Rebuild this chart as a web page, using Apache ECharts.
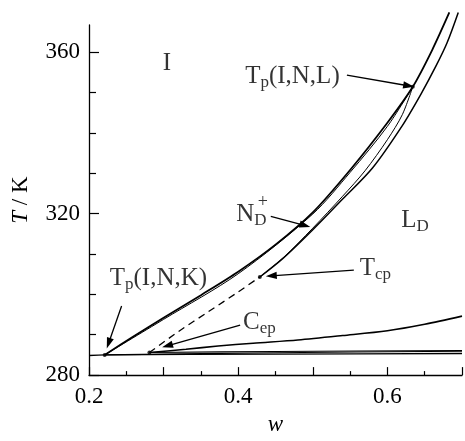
<!DOCTYPE html>
<html><head><meta charset="utf-8">
<script src="https://cdn.jsdelivr.net/npm/echarts@6/dist/echarts.min.js"></script>
<style>html,body{margin:0;padding:0;background:#fff}#c{width:465px;height:441px}</style>
</head><body><div id="c"></div>
<script>
// tick labels
const xLabelTicks = [0.2, 0.4, 0.6];
const yLabelTicks = [280, 320, 360];
const yMinorTicks = [290, 300, 310, 330, 340, 350];

// phase boundaries [w, T/K]
const isoBoundary = [[0.221,285.0],[0.26,289.6],[0.30,294.2],[0.35,299.8],[0.40,305.6],[0.45,312.3],[0.50,320.3],[0.55,330.8],[0.60,342.5],[0.634,351.4],[0.66,360.5],[0.683,369.8]];
const nemBoundaryIN = [[0.221,285.0],[0.30,293.8],[0.40,305.1],[0.50,319.9],[0.55,330.2],[0.60,341.6],[0.634,351.4]];
const nemBoundaryNL = [[0.429,304.3],[0.46,309.0],[0.50,316.4],[0.54,324.3],[0.57,330.6],[0.60,338.3],[0.62,344.5],[0.634,351.4]];
const lamBoundary = [[0.429,304.3],[0.46,308.9],[0.50,316.0],[0.54,323.6],[0.58,331.3],[0.62,341.8],[0.645,349.6],[0.665,356.5],[0.68,362.3],[0.695,369.8]];
const secondOrder = [[0.281,285.6],[0.32,290.8],[0.36,295.7],[0.40,300.6],[0.429,304.3]];
const lowerCurve = [[0.281,285.6],[0.33,286.4],[0.373,287.2],[0.42,287.9],[0.48,288.7],[0.54,289.8],[0.60,291.0],[0.65,292.6],[0.70,294.6]];
const flat1 = [[0.2,284.85],[0.221,285.0],[0.45,285.2],[0.7,285.35]];
const flat2 = [[0.221,285.0],[0.45,285.55],[0.7,285.9]];
const flat3 = [[0.281,285.6],[0.45,285.85],[0.7,286.1]];

// special points
const specialPoints = [[0.221,285.0],[0.429,304.3],[0.281,285.6],[0.634,351.4]];

// arrows [x1, T1, x2, T2] (tail -> head)
const arrows = [
  [0.2437,297.1,0.2238,286.6],
  [0.5457,354.3,0.6358,351.4],
  [0.4437,319.3,0.4967,316.7],
  [0.555,306.0,0.437,304.5],
  [0.4026,292.4,0.298,286.9]
];

// text labels
const labelPos = [[0.3046,357.1],[0.4093,354.0],[0.2278,304.0],[0.3974,319.8],[0.4331,322.9],[0.6185,318.3],[0.5629,306.4],[0.4066,293.1]];
const labelText = ['{m|I}','{m|T}{s|p}{m|(I,N,L)}','{m|T}{s|p}{m|(I,N,K)}','{m|N}{s|D}','{u|+}','{m|L}{s|D}','{m|T}{s|cp}','{m|C}{s|ep}'];
const labelCentered = [true,false,false,false,true,false,false,false];

const F = "'Liberation Serif','DejaVu Serif',serif";
const C = '#000';
const rich = {
  m:{fontSize:25,fontFamily:F,color:C},
  s:{fontSize:17,fontFamily:F,color:C,padding:[13,0,0,0]},
  u:{fontSize:18,fontFamily:F,color:C}
};

function curve(data, width, type) {
  return {type:'line', data:data, smooth:0.3, symbol:'none', clip:false, silent:true,
    lineStyle:{color:'#000', width:width, type:type||'solid'}};
}
const near = (v, arr) => arr.some(t => Math.abs(v - t) < 1e-6);

function arrowItem(params, api) {
  const p1 = api.coord([api.value(0), api.value(1)]);
  const p2 = api.coord([api.value(2), api.value(3)]);
  const dx = p2[0]-p1[0], dy = p2[1]-p1[1];
  const L = Math.sqrt(dx*dx+dy*dy) || 1;
  const ux = dx/L, uy = dy/L;
  const hl = 11, hw = 3.6;
  const bx = p2[0]-ux*hl, by = p2[1]-uy*hl;
  return {type:'group', children:[
    {type:'line', shape:{x1:p1[0], y1:p1[1], x2:bx+ux*2, y2:by+uy*2}, style:{stroke:'#000', lineWidth:1.3}},
    {type:'polygon', shape:{points:[[p2[0],p2[1]],[bx-uy*hw, by+ux*hw],[bx+uy*hw, by-ux*hw]]}, style:{fill:'#000'}}
  ]};
}

const chart = echarts.init(document.getElementById('c'), null, {renderer:'canvas'});
chart.setOption({
  animation:false,
  backgroundColor:'#fff',
  grid:{left:89, top:25, width:378, height:364},
  xAxis:{type:'value', min:0.2, max:0.7, interval:0.1,
    name:'w', nameLocation:'middle', nameGap:34,
    nameTextStyle:{fontFamily:F, fontSize:23, fontStyle:'italic', color:C},
    axisLine:{lineStyle:{color:'#000', width:1.3}},
    axisTick:{inside:true, length:8, lineStyle:{color:'#000', width:1.2}},
    minorTick:{show:true, splitNumber:2, length:4, lineStyle:{color:'#000', width:1.2}},
    axisLabel:{margin:10, fontFamily:F, fontSize:23, color:C,
      formatter: v => near(v, xLabelTicks) ? v.toFixed(1) : ''},
    splitLine:{show:false}, minorSplitLine:{show:false}},
  yAxis:[
    {type:'value', min:280, max:366.7,
     name:'{i|T} / K', nameLocation:'middle', nameGap:57, nameRotate:90,
     nameTextStyle:{fontFamily:F, fontSize:23, color:C, rich:{i:{fontFamily:F, fontSize:23, fontStyle:'italic', color:C}}},
     axisLine:{show:true, lineStyle:{color:'#000', width:1.3}},
     axisTick:{inside:true, length:10, customValues:yLabelTicks, lineStyle:{color:'#000', width:1.2}},
     axisLabel:{margin:9, fontFamily:F, fontSize:23, color:C, customValues:yLabelTicks},
     splitLine:{show:false}},
    {type:'value', min:280, max:366.7, position:'left', offset:0,
     axisLine:{show:false},
     axisTick:{show:true, inside:true, length:7, customValues:yMinorTicks, lineStyle:{color:'#000', width:1.2}},
     axisLabel:{show:false}, splitLine:{show:false}}
  ],
  series:[
    curve(isoBoundary, 1.8),
    curve(nemBoundaryIN, 1.0),
    curve(nemBoundaryNL, 1.0),
    curve(lamBoundary, 1.5),
    curve(secondOrder, 1.3, [7,5]),
    curve(lowerCurve, 1.6),
    curve(flat1, 1.3),
    curve(flat2, 1.1),
    curve(flat3, 1.1),
    {type:'scatter', data:specialPoints, symbol:'circle', symbolSize:4, silent:true, clip:false,
     itemStyle:{color:'#000'}},
    {type:'custom', data:arrows, renderItem:arrowItem, silent:true, clip:false,
     encode:{x:[0,2], y:[1,3]}},
    {type:'scatter', symbolSize:0, silent:true, clip:false,
     data: labelPos.map((p,i) => ({value:p, label:{show:true,
        position: labelCentered[i] ? 'inside' : 'right', distance:0,
        formatter: labelText[i], rich:rich}}))}
  ]
});
</script></body></html>
